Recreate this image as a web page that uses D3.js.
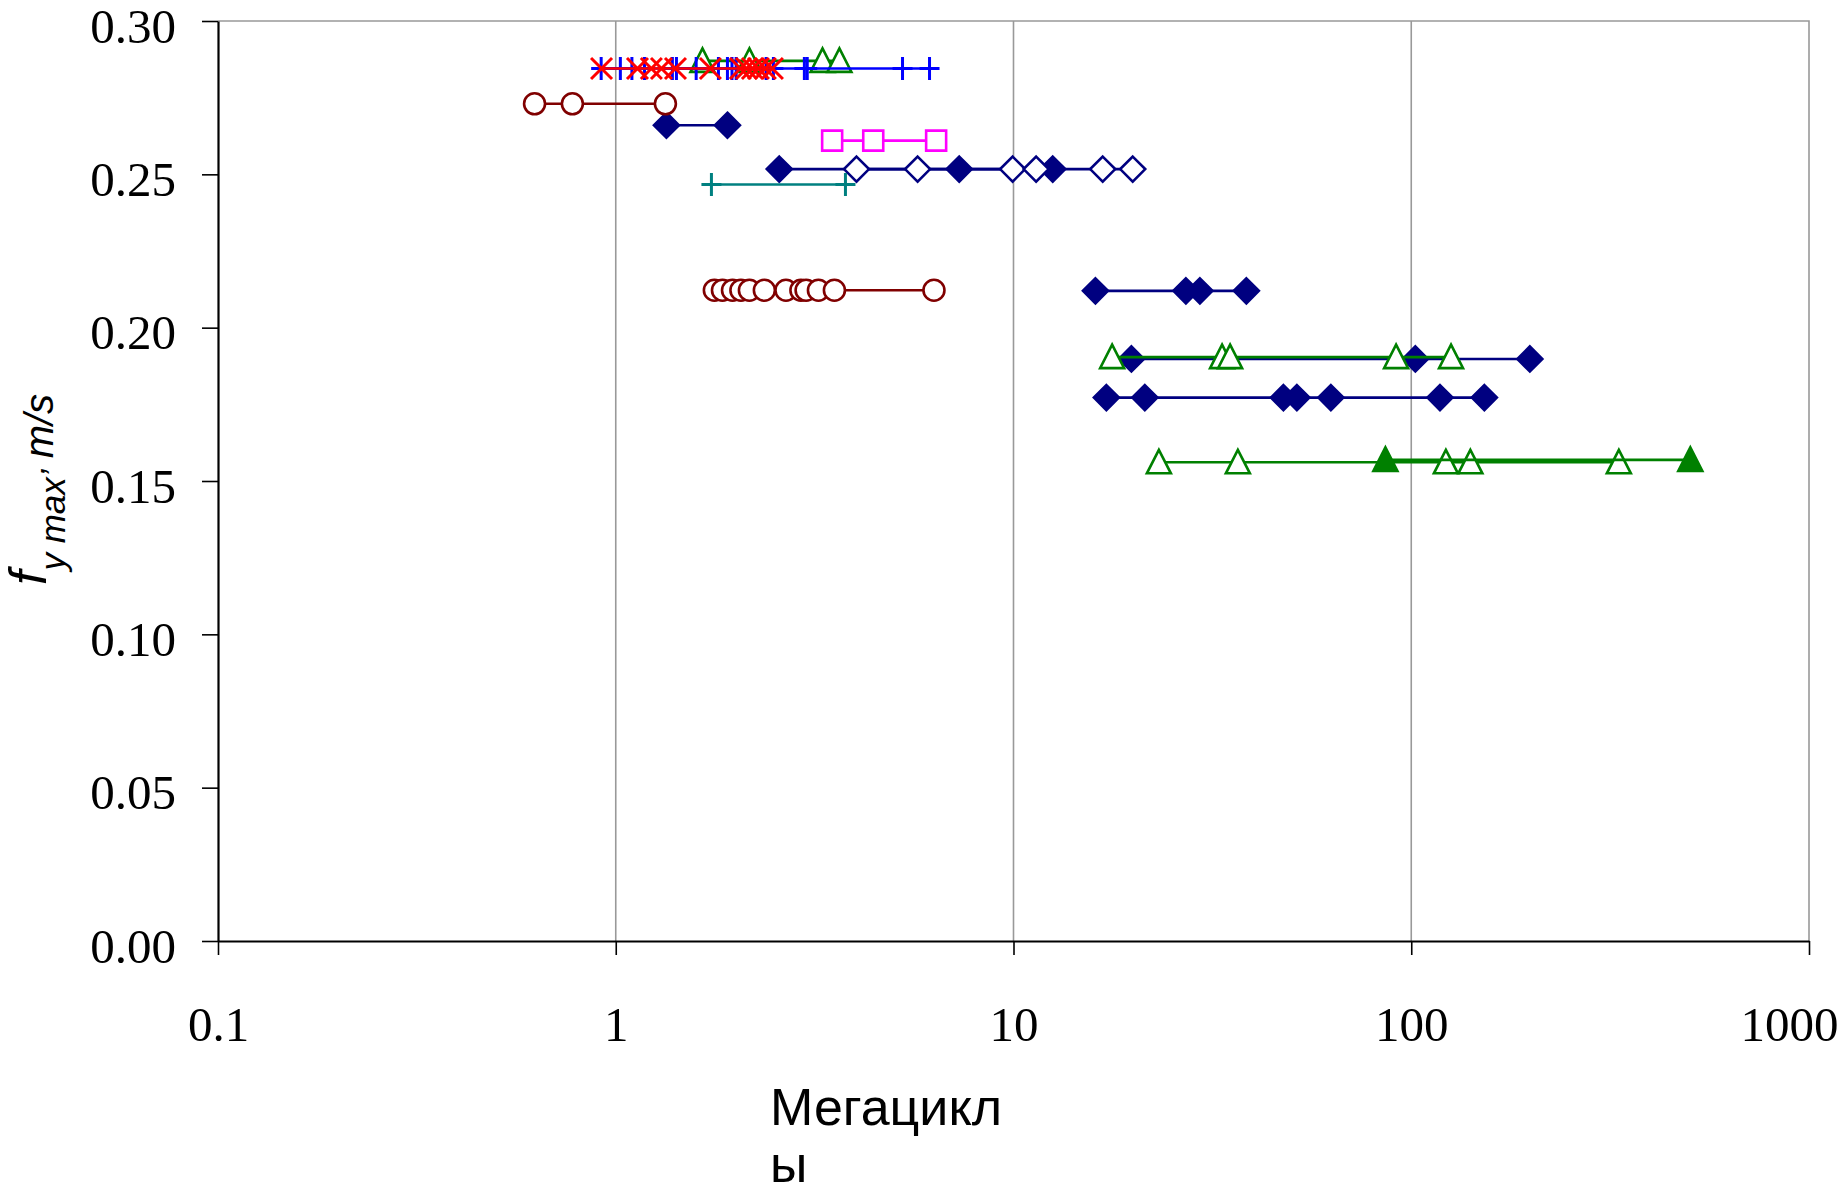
<!DOCTYPE html>
<html>
<head>
<meta charset="utf-8">
<script src="https://cdn.jsdelivr.net/npm/d3@7"></script>
<style>
    body { margin: 0; background: #fff; }
</style>
</head>
<body>
<div id="chart-area"></div>
<script>
const WIDTH = 1844;
const HEIGHT = 1193;
const margin = {top: 21, right: 35, bottom: 252, left: 218};

// axis ticks
const xTicks = [0.1, 1, 10, 100, 1000];
const xGrid = [1, 10, 100];
const yTicks = [0, 0.05, 0.10, 0.15, 0.20, 0.25, 0.30];

// megacycles per series, with the single f level of each row
const greenTriTopX = [1.652, 2.168, 3.31, 3.65];
const greenTriTopY = 0.287;
const bluePlusX = [0.919, 1.027, 1.098, 1.181, 1.388, 1.421, 1.593, 1.812, 1.909, 1.960, 2.008, 2.388, 2.491, 2.98, 3.03, 5.26, 6.15];
const bluePlusY = 0.2845;
const redCrossX = [0.921, 1.134, 1.229, 1.303, 1.413, 1.730, 2.058, 2.131, 2.206, 2.284, 2.378, 2.477];
const redCrossY = 0.2845;
const redCircleTopX = [0.625, 0.778, 1.333];
const redCircleTopY = 0.273;
const navyDiamondAX = [1.341, 1.909];
const navyDiamondAY = 0.266;
const magentaSquareX = [3.50, 4.44, 6.39];
const magentaSquareY = 0.261;
const navyOpenX = [4.03, 5.74, 9.95, 11.40, 16.76, 19.94];
const navyOpenY = 0.2517;
const navyDiamondBX = [2.577, 7.305, 12.55];
const navyDiamondBY = 0.2517;
const tealPlusX = [1.740, 3.78];
const tealPlusY = 0.2467;
const redCircleX = [1.770, 1.855, 1.966, 2.064, 2.168, 2.364, 2.679, 2.921, 3.010, 3.233, 3.546, 6.31];
const redCircleY = 0.2122;
const navyDiamondCX = [16.07, 27.13, 29.42, 38.50];
const navyDiamondCY = 0.212;
const navyDiamondDX = [19.79, 102.4, 198.7];
const navyDiamondDY = 0.1898;
const greenTriMidX = [17.70, 33.45, 35.04, 91.6, 125.9];
const greenTriMidY = 0.1904;
const navyDiamondEX = [17.12, 21.39, 47.71, 51.58, 62.80, 118.1, 152.7];
const navyDiamondEY = 0.1772;
const greenTriLowX = [23.20, 36.65, 122.2, 140.8, 332.6];
const greenTriLowY = 0.1561;
const greenTriFillX = [86.1, 503];
const greenTriFillY = 0.1569;

const NAVY = "#000080", DARKRED = "#800000", GREEN = "#008000";

// marker outlines around the point
const markers = {
    diamond: "M0,-12.5L12.5,0L0,12.5L-12.5,0Z",
    square: "M-10,-10H10V10H-10Z",
    triangle: "M0,-12.5L12,11L-12,11Z",
    plus: "M-10,0H10M0,-11.5V11.5",
    cross: "M-10.5,-10.5L10.5,10.5M-10.5,10.5L10.5,-10.5",
    circle: d3.symbol(d3.symbolCircle, Math.PI * 110)()
};

const series = [
    {xs: navyDiamondAX, y: navyDiamondAY, color: NAVY, marker: "diamond", fill: true},
    {xs: navyDiamondBX, y: navyDiamondBY, color: NAVY, marker: "diamond", fill: true},
    {xs: navyOpenX, y: navyOpenY, color: NAVY, marker: "diamond", fill: false},
    {xs: magentaSquareX, y: magentaSquareY, color: "#ff00ff", marker: "square", fill: false},
    {xs: tealPlusX, y: tealPlusY, color: "#008080", marker: "plus"},
    {xs: redCircleTopX, y: redCircleTopY, color: DARKRED, marker: "circle", fill: false},
    {xs: redCircleX, y: redCircleY, color: DARKRED, marker: "circle", fill: false},
    {xs: navyDiamondCX, y: navyDiamondCY, color: NAVY, marker: "diamond", fill: true},
    {xs: navyDiamondDX, y: navyDiamondDY, color: NAVY, marker: "diamond", fill: true},
    {xs: greenTriMidX, y: greenTriMidY, color: GREEN, marker: "triangle", fill: false},
    {xs: navyDiamondEX, y: navyDiamondEY, color: NAVY, marker: "diamond", fill: true},
    {xs: greenTriLowX, y: greenTriLowY, color: GREEN, marker: "triangle", fill: false},
    {xs: greenTriFillX, y: greenTriFillY, color: GREEN, marker: "triangle", fill: true},
    {xs: greenTriTopX, y: greenTriTopY, color: GREEN, marker: "triangle", fill: false},
    {xs: bluePlusX, y: bluePlusY, color: "#0000ff", marker: "plus"},
    {xs: redCrossX, y: redCrossY, color: "#ff0000", marker: "cross"}
];

const x = d3.scaleLog()
    .domain([0.1, 1000])
    .range([margin.left, WIDTH - margin.right]);

const y = d3.scaleLinear()
    .domain([0, 0.30])
    .range([HEIGHT - margin.bottom, margin.top]);

const svg = d3.select('#chart-area').append('svg')
    .attr("width", WIDTH)
    .attr("height", HEIGHT)
    .attr("viewBox", [0, 0, WIDTH, HEIGHT]);

// grid and frame
svg.append("g")
    .selectAll("line")
    .data(xGrid)
    .join("line")
    .attr("x1", d => x(d)).attr("x2", d => x(d))
    .attr("y1", y(0.30)).attr("y2", y(0))
    .attr("stroke", "#999")
    .attr("stroke-width", 1.6);

svg.append("path")
    .attr("d", `M${x(0.1)},${y(0.30)}H${x(1000)}V${y(0)}`)
    .attr("fill", "none")
    .attr("stroke", "#999")
    .attr("stroke-width", 1.6);

// series lines and markers
const lineGen = d3.line()
    .x(d => x(d[0]))
    .y(d => y(d[1]));

series.forEach(s => {
    const pts = s.xs.map(v => [v, s.y]);
    const g = svg.append("g");
    g.append("path")
        .attr("d", lineGen(pts))
        .attr("fill", "none")
        .attr("stroke", s.color)
        .attr("stroke-width", 2.6);
    const open = s.marker === "plus" || s.marker === "cross";
    g.selectAll("path.m")
        .data(pts)
        .join("path")
        .attr("class", "m")
        .attr("transform", d => `translate(${x(d[0])},${y(d[1])})`)
        .attr("d", markers[s.marker])
        .attr("fill", open ? "none" : (s.fill ? s.color : "#fff"))
        .attr("stroke", s.color)
        .attr("stroke-width", open ? 3 : 2.6);
});

// axes
const yAxis = svg.append("g")
    .attr("transform", `translate(${margin.left},0)`)
    .call(d3.axisLeft(y)
        .tickValues(yTicks)
        .tickFormat(d3.format(".2f"))
        .tickSize(16)
        .tickSizeOuter(0)
        .tickPadding(26));

const xAxis = svg.append("g")
    .attr("transform", `translate(0,${HEIGHT - margin.bottom})`)
    .call(d3.axisBottom(x)
        .tickValues(xTicks)
        .tickFormat(d => String(d))
        .tickSize(14)
        .tickSizeOuter(0)
        .tickPadding(51));

[yAxis, xAxis].forEach(a => {
    a.select(".domain").attr("stroke", "#000").attr("stroke-width", 2.2);
    a.selectAll(".tick line").attr("stroke", "#000").attr("stroke-width", 1.6);
    a.selectAll("text")
        .attr("fill", "#000")
        .attr("font-family", "'Liberation Serif', 'Times New Roman', serif")
        .attr("font-size", 49);
});
yAxis.selectAll("text").attr("dy", "0.43em");
xAxis.selectAll(".tick:last-child text").attr("dx", -20);

// axis titles
const yTitle = svg.append("text")
    .attr("transform", "translate(46,585) rotate(-90)")
    .attr("font-family", "'Liberation Sans', Arial, sans-serif")
    .attr("font-style", "italic")
    .attr("fill", "#000");
yTitle.append("tspan").attr("font-size", 52).text("f");
yTitle.append("tspan").attr("font-size", 35).attr("dy", 19).text("y max’");
yTitle.append("tspan").attr("font-size", 40).attr("dy", -12).text(" m/s");

const xTitle = svg.append("text")
    .attr("font-family", "'Liberation Sans', Arial, sans-serif")
    .attr("font-size", 52)
    .attr("fill", "#000");
xTitle.append("tspan").attr("x", 770).attr("y", 1125).text("Мегацикл");
xTitle.append("tspan").attr("x", 770).attr("y", 1182).text("ы");
</script>
</body>
</html>
